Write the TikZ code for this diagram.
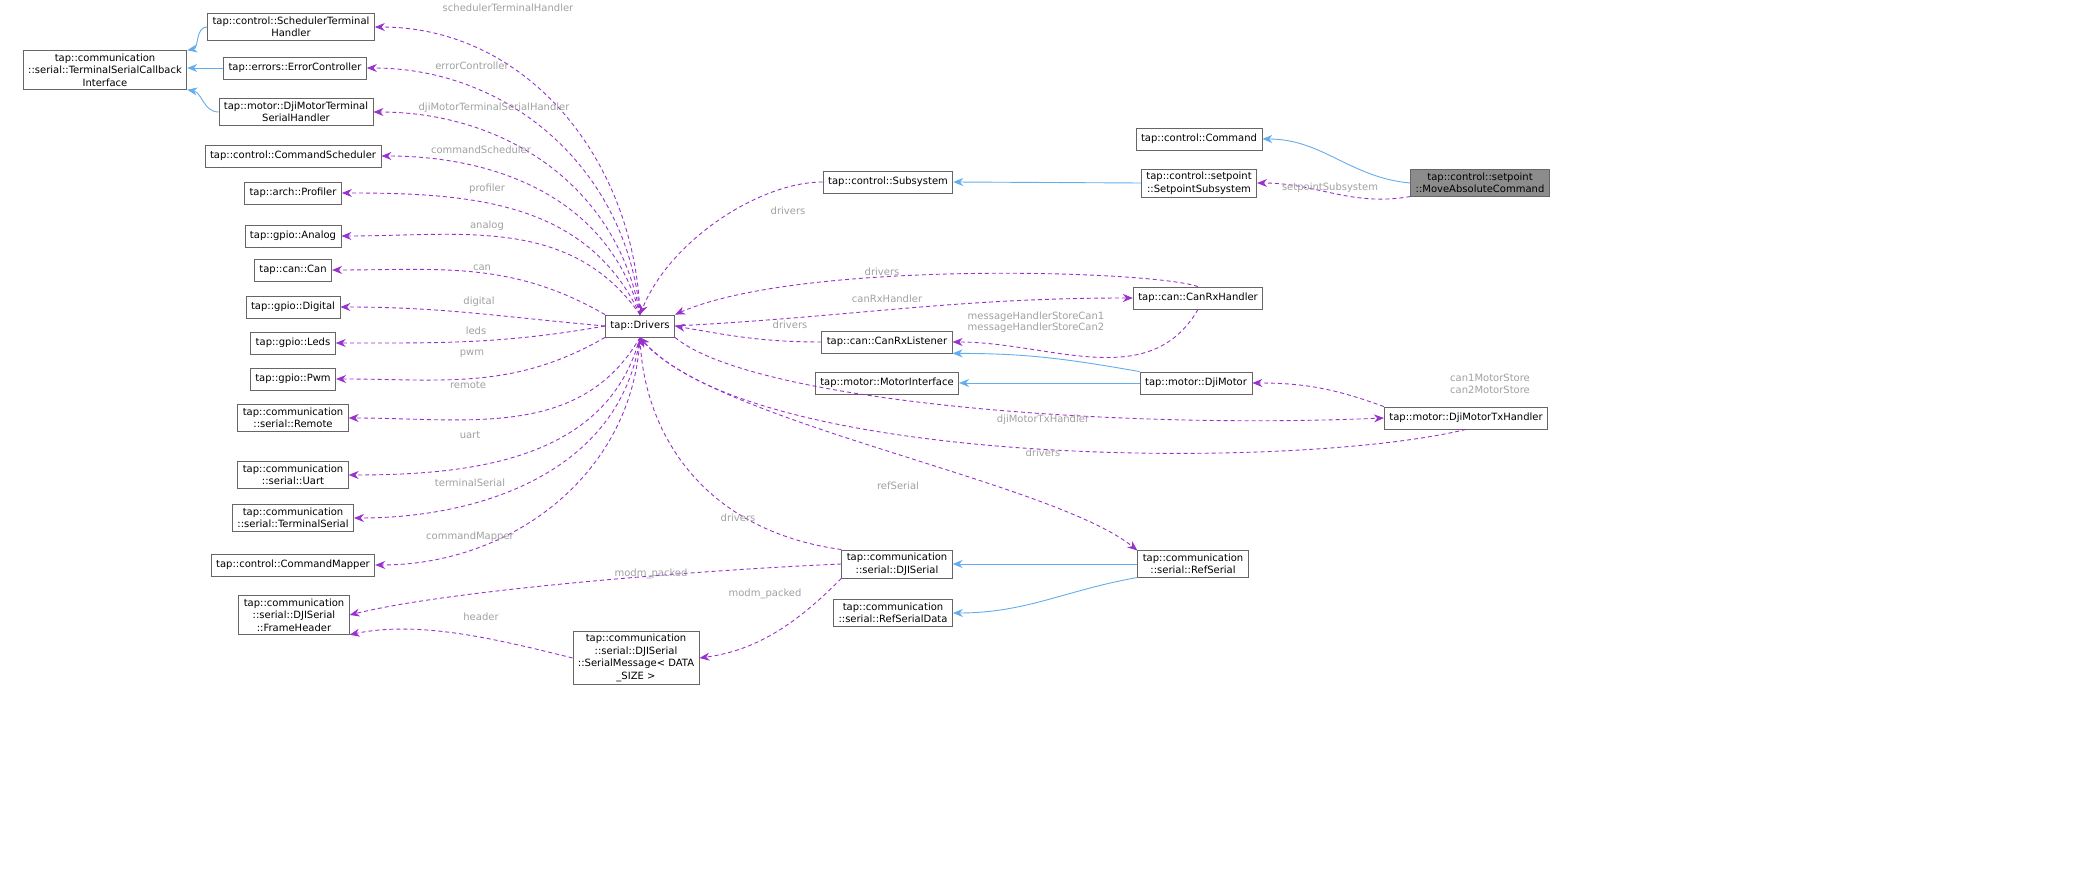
\documentclass[tikz,border=0pt]{standalone}
\usepackage{fontspec}
\setmainfont{DejaVu Sans}
\usetikzlibrary{arrows.meta}
\definecolor{inh}{RGB}{99,172,237}
\definecolor{usg}{RGB}{153,50,204}
\definecolor{lbl}{RGB}{160,160,160}
\begin{document}
\begin{tikzpicture}[x=0.5pt,y=-0.5pt,
  box/.style={draw=black!60,line width=0.4pt,fill=white,font=\fontsize{5}{6.25}\selectfont,align=center,inner xsep=2.5pt,inner ysep=1.5pt,minimum height=11pt},
  inh/.style={draw=inh,-{Stealth[length=5pt,width=4pt]},line width=0.45pt},
  use/.style={draw=usg,dash pattern=on 2pt off 1.5pt,-{Stealth[length=5pt,width=4pt]},line width=0.45pt},
  lb/.style={font=\fontsize{5}{5.75}\selectfont,text=lbl,align=center,inner sep=0.5pt}]
\useasboundingbox (0,0) rectangle (2088,892);
\node[box] (tsci) at (105,70) {tap::communication\\::serial::TerminalSerialCallback\\Interface};
\node[box] (sth) at (291,27) {tap::control::SchedulerTerminal\\Handler};
\node[box] (ec) at (295,68) {tap::errors::ErrorController};
\node[box] (dmtsh) at (296,112) {tap::motor::DjiMotorTerminal\\SerialHandler};
\node[box] (cs) at (293,156) {tap::control::CommandScheduler};
\node[box] (prof) at (293,193) {tap::arch::Profiler};
\node[box] (analog) at (293,236) {tap::gpio::Analog};
\node[box] (can) at (293,270) {tap::can::Can};
\node[box] (digital) at (293,307) {tap::gpio::Digital};
\node[box] (leds) at (293,343) {tap::gpio::Leds};
\node[box] (pwm) at (293,379) {tap::gpio::Pwm};
\node[box] (remote) at (293,418) {tap::communication\\::serial::Remote};
\node[box] (uart) at (293,475) {tap::communication\\::serial::Uart};
\node[box] (ts) at (293,518) {tap::communication\\::serial::TerminalSerial};
\node[box] (cm) at (293,565) {tap::control::CommandMapper};
\node[box] (fh) at (294,615) {tap::communication\\::serial::DJISerial\\::FrameHeader};
\node[box] (drivers) at (640,326) {tap::Drivers};
\node[box] (sm) at (636,658) {tap::communication\\::serial::DJISerial\\::SerialMessage< DATA\\\_SIZE >};
\node[box] (djis) at (897,564) {tap::communication\\::serial::DJISerial};
\node[box] (rsd) at (893,613) {tap::communication\\::serial::RefSerialData};
\node[box] (refs) at (1193,564) {tap::communication\\::serial::RefSerial};
\node[box] (subs) at (888,182) {tap::control::Subsystem};
\node[box] (crh) at (1198,298) {tap::can::CanRxHandler};
\node[box] (crl) at (887,342) {tap::can::CanRxListener};
\node[box] (mi) at (887,383) {tap::motor::MotorInterface};
\node[box] (dm) at (1196,383) {tap::motor::DjiMotor};
\node[box] (dmtx) at (1466,418) {tap::motor::DjiMotorTxHandler};
\node[box] (cmd) at (1199,139) {tap::control::Command};
\node[box] (sps) at (1199,183) {tap::control::setpoint\\::SetpointSubsystem};
\node[box,fill=black!45] (mac) at (1480,183) {tap::control::setpoint\\::MoveAbsoluteCommand};
% inheritance
\draw[inh] (sth.west) to[out=180,in=10] (tsci.north east);
\draw[inh] (ec.west) -- (ec.west -| tsci.east);
\draw[inh] (dmtsh.west) to[out=180,in=-10] (tsci.south east);
\draw[inh] (mac.west) to[out=175,in=0] (cmd.east);
\draw[inh] (sps.west) -- (subs.east);
\draw[inh] (dm.west) -- (mi.east);
\draw[inh] (dm.north west) to[out=170,in=0] (crl.south east);
\draw[inh] (refs.west) -- (djis.east);
\draw[inh] (refs.south west) to[out=190,in=0] (rsd.east);
% usage fan
\draw[use] (drivers.north) to[out=92,in=0] (sth.east);
\draw[use] (drivers.north) to[out=95,in=0] (ec.east);
\draw[use] (drivers.north) to[out=100,in=0] (dmtsh.east);
\draw[use] (drivers.north) to[out=105,in=0] (cs.east);
\draw[use] (drivers.north) to[out=115,in=0] (prof.east);
\draw[use] (drivers.north) to[out=125,in=0] (analog.east);
\draw[use] (drivers.north west) to[out=150,in=0] (can.east);
\draw[use] (drivers.west) to[out=175,in=0] (digital.east);
\draw[use] (drivers.west) to[out=190,in=0] (leds.east);
\draw[use] (drivers.south west) to[out=-150,in=0] (pwm.east);
\draw[use] (drivers.south) to[out=-120,in=0] (remote.east);
\draw[use] (drivers.south) to[out=-105,in=0] (uart.east);
\draw[use] (drivers.south) to[out=-98,in=0] (ts.east);
\draw[use] (drivers.south) to[out=-93,in=0] (cm.east);
\node[lb] (l1) at (508,8) {schedulerTerminalHandler};
\node[lb] (l2) at (472,66) {errorController};
\node[lb] (l3) at (494,108) {djiMotorTerminalSerialHandler};
\node[lb] (l4) at (481,150) {commandScheduler};
\node[lb] (l5) at (487,189) {profiler};
\node[lb] (l6) at (487,226) {analog};
\node[lb] (l7) at (482,268) {can};
\node[lb] (l8) at (479,302) {digital};
\node[lb] (l9) at (476,331) {leds};
\node[lb] (l10) at (472,354) {pwm};
\node[lb] (l11) at (468,385) {remote};
\node[lb] (l12) at (470,435) {uart};
\node[lb] (l13) at (470,483) {terminalSerial};
\node[lb] (l14) at (470,537) {commandMapper};
% right side usage
\draw[use] (subs.west) .. controls (760,182) and (670,240) .. (drivers.north);
\node[lb] (l15) at (788,211) {drivers};
\draw[use] (crh.north) .. controls (1150,270) and (800,260) .. (drivers.north east);
\node[lb] (l16) at (882,272) {drivers};
\draw[use] (drivers.east) to[out=3,in=180] (crh.west);
\node[lb] (l17) at (887,299) {canRxHandler};
\draw[use] (crl.west) to[out=180,in=-10] (drivers.east);
\node[lb] (l18) at (790,325) {drivers};
\draw[use] (crh.south) to[out=-120,in=0] (crl.east);
\node[lb] (l19) at (1036,322) {messageHandlerStoreCan1\\messageHandlerStoreCan2};
\draw[use] (mac.south west) to[out=190,in=0] (sps.east);
\node[lb] (l20) at (1330,188) {setpointSubsystem};
\draw[use] (dmtx.north west) to[out=160,in=0] (dm.east);
\node[lb] (l21) at (1490,384) {can1MotorStore\\can2MotorStore};
\draw[use] (drivers.south east) .. controls (750,400) and (1100,430) .. (dmtx.west);
\node[lb] (l22) at (1043,420) {djiMotorTxHandler};
\draw[use] (dmtx.south) .. controls (1300,470) and (760,470) .. (drivers.south);
\node[lb] (l23) at (1043,453) {drivers};
\draw[use] (drivers.south) .. controls (700,420) and (1050,480) .. (refs.north west);
\node[lb] (l24) at (898,486) {refSerial};
\draw[use] (djis.north west) .. controls (700,530) and (645,430) .. (drivers.south);
\node[lb] (l25) at (738,518) {drivers};
\draw[use] (djis.west) .. controls (700,570) and (450,590) .. (fh.east);
\node[lb] (l26) at (651,574) {modm\_packed};
\draw[use] (djis.south west) .. controls (800,620) and (760,650) .. (sm.east);
\node[lb] (l27) at (765,594) {modm\_packed};
\draw[use] (sm.west) .. controls (500,640) and (420,620) .. (fh.south east);
\node[lb] (l28) at (481,617) {header};
\end{tikzpicture}
\end{document}
